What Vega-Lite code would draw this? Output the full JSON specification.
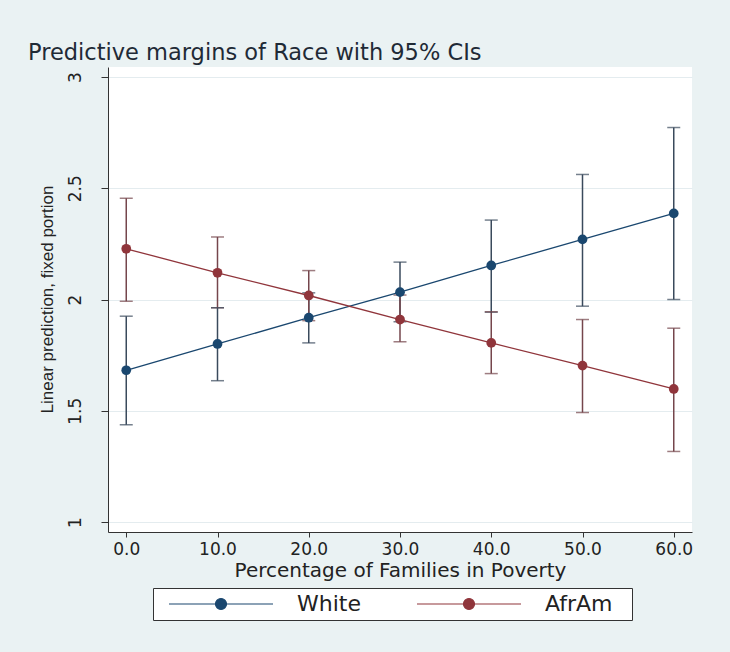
{
  "$schema": "https://vega.github.io/schema/vega-lite/v6.json",
  "width": 584,
  "height": 465,
  "autosize": "none",
  "padding": {"left": 108, "top": 67, "right": 38, "bottom": 120},
  "background": "#EAF2F3",
  "title": {
    "text": "Predictive margins of Race with 95% CIs",
    "anchor": "start",
    "frame": "group",
    "dx": -80,
    "dy": 22,
    "offset": 7,
    "baseline": "alphabetic",
    "font": "DejaVu Sans",
    "fontSize": 22.5,
    "fontWeight": "normal",
    "color": "#1F2A36"
  },
  "config": {
    "view": {"fill": "white", "stroke": null},
    "font": "DejaVu Sans",
    "axisX": {
      "domainColor": "#333333",
      "tickColor": "#333333",
      "tickSize": 5,
      "labelFontSize": 17,
      "labelColor": "#222222",
      "labelPadding": 4,
      "titleFontSize": 20,
      "titleFontWeight": "normal",
      "titleColor": "#222222",
      "titleY": 44,
      "titleBaseline": "alphabetic",
      "grid": false
    },
    "axisY": {
      "domainColor": "#333333",
      "tickColor": "#333333",
      "tickSize": 7,
      "labelFontSize": 17,
      "labelColor": "#222222",
      "labelAngle": 270,
      "labelAlign": "center",
      "labelBaseline": "bottom",
      "labelPadding": 17,
      "grid": true,
      "gridColor": "#E4ECEF",
      "gridWidth": 1,
      "titleFont": "Liberation Sans",
      "titleFontSize": 17,
      "titleFontWeight": "normal",
      "titleColor": "#222222",
      "titleAngle": 270,
      "titleX": -61,
      "titleY": 232,
      "titleAlign": "center",
      "titleBaseline": "middle"
    }
  },
  "data": {
    "values": [
      {"pov": 0, "race": "White", "margin": 1.682, "lo": 1.437, "hi": 1.925},
      {"pov": 10, "race": "White", "margin": 1.800, "lo": 1.635, "hi": 1.963},
      {"pov": 20, "race": "White", "margin": 1.918, "lo": 1.805, "hi": 2.030},
      {"pov": 30, "race": "White", "margin": 2.033, "lo": 1.900, "hi": 2.168},
      {"pov": 40, "race": "White", "margin": 2.153, "lo": 1.943, "hi": 2.357},
      {"pov": 50, "race": "White", "margin": 2.270, "lo": 1.970, "hi": 2.562},
      {"pov": 60, "race": "White", "margin": 2.387, "lo": 2.000, "hi": 2.773},
      {"pov": 0, "race": "AfrAm", "margin": 2.228, "lo": 1.992, "hi": 2.455},
      {"pov": 10, "race": "AfrAm", "margin": 2.120, "lo": 1.963, "hi": 2.281},
      {"pov": 20, "race": "AfrAm", "margin": 2.018, "lo": 1.905, "hi": 2.130},
      {"pov": 30, "race": "AfrAm", "margin": 1.910, "lo": 1.810, "hi": 2.020},
      {"pov": 40, "race": "AfrAm", "margin": 1.805, "lo": 1.667, "hi": 1.945},
      {"pov": 50, "race": "AfrAm", "margin": 1.703, "lo": 1.492, "hi": 1.910},
      {"pov": 60, "race": "AfrAm", "margin": 1.598, "lo": 1.317, "hi": 1.871}
    ]
  },
  "encoding": {
    "x": {
      "field": "pov",
      "type": "quantitative",
      "scale": {"domain": [-2, 62], "nice": false, "zero": false},
      "axis": {
        "title": "Percentage of Families in Poverty",
        "values": [0, 10, 20, 30, 40, 50, 60],
        "format": ".1f"
      }
    }
  },
  "layer": [
    {
      "encoding": {
        "color": {
          "field": "race",
          "type": "nominal",
          "scale": {"domain": ["White", "AfrAm"], "range": ["#3A4A5C", "#75464C"]},
          "legend": null
        }
      },
      "layer": [
        {
          "mark": {"type": "rule", "strokeWidth": 1.5},
          "encoding": {
            "y": {
              "field": "lo",
              "type": "quantitative",
              "scale": {"domain": [0.955, 3.045], "nice": false, "zero": false},
              "axis": {
                "title": "Linear prediction, fixed portion",
                "values": [1, 1.5, 2, 2.5, 3],
                "format": "~g"
              }
            },
            "y2": {"field": "hi"}
          }
        },
        {
          "mark": {"type": "tick", "orient": "horizontal", "size": 13, "thickness": 1.5},
          "encoding": {
            "y": {"field": "lo", "type": "quantitative", "title": "Linear prediction, fixed portion"}
          }
        },
        {
          "mark": {"type": "tick", "orient": "horizontal", "size": 13, "thickness": 1.5},
          "encoding": {
            "y": {"field": "hi", "type": "quantitative", "title": "Linear prediction, fixed portion"}
          }
        }
      ]
    },
    {
      "encoding": {
        "y": {"field": "margin", "type": "quantitative", "title": "Linear prediction, fixed portion"},
        "color": {
          "field": "race",
          "type": "nominal",
          "scale": {"domain": ["White", "AfrAm"], "range": ["#1A476F", "#90353B"]},
          "legend": {
            "orient": "none",
            "legendX": 45,
            "legendY": 521,
            "direction": "horizontal",
            "columns": 2,
            "title": null,
            "fillColor": "white",
            "strokeColor": "#333333",
            "padding": 5,
            "cornerRadius": 0,
            "labelFont": "DejaVu Sans",
            "labelFontSize": 22,
            "labelColor": "#222222",
            "labelExpr": "datum.label == 'AfrAm' ? 'AfrAm\u00a0\u00a0\u200b' : datum.label",
            "symbolType": "M0,0L10.4,0M4.65,0A0.55,0.55,0,1,1,5.75,0A0.55,0.55,0,1,1,4.65,0Z",
            "symbolSize": 400,
            "symbolStrokeWidth": 1.2,
            "labelOffset": 117,
            "columnPadding": 45
          }
        }
      },
      "layer": [
        {"mark": {"type": "line", "strokeWidth": 1.3}},
        {"mark": {"type": "point", "filled": true, "size": 95, "opacity": 1}}
      ]
    }
  ],
  "resolve": {"scale": {"color": "independent"}}
}
